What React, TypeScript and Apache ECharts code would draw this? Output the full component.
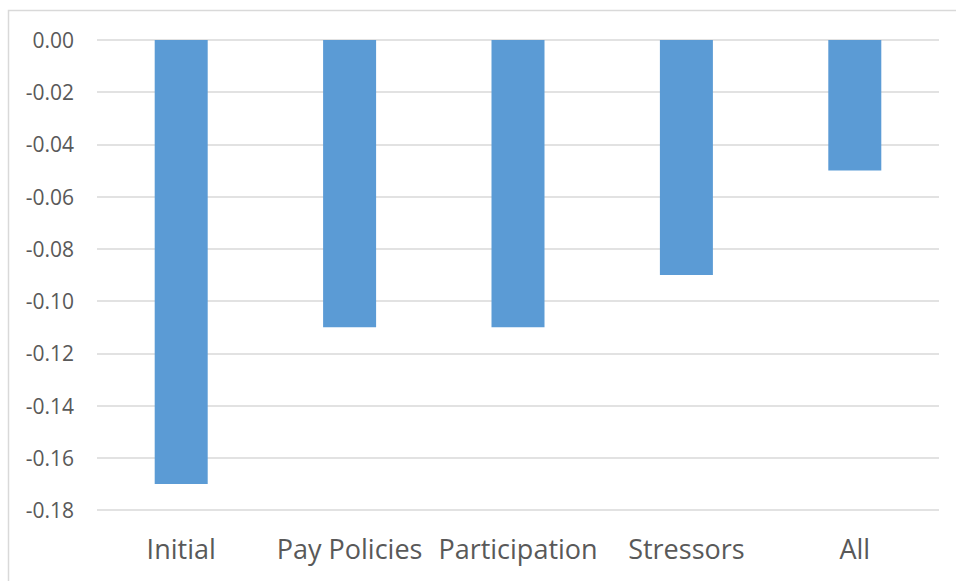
import React, { useEffect, useRef } from "react";
import * as echarts from "echarts";

const categories = ["Initial", "Pay Policies", "Participation", "Stressors", "All"];
const values = [-0.17, -0.11, -0.11, -0.09, -0.05];
const yMin = -0.18;
const yMax = 0;
const yStep = 0.02;

export default function App() {
  const ref = useRef<HTMLDivElement>(null);
  useEffect(() => {
    if (!ref.current) return;
    const chart = echarts.init(ref.current, null, { renderer: "svg" });
    chart.setOption({
      animation: false,
      backgroundColor: "#ffffff",
      textStyle: { fontFamily: "Open Sans" },
      graphic: [
        {
          type: "rect",
          shape: { x: 8.5, y: 10.5, width: 1000, height: 1000 },
          style: { fill: "none", stroke: "#D9D9D9", lineWidth: 1.5 },
          silent: true,
          z: 0,
        },
      ],
      grid: { left: 97, right: 17, top: 40, bottom: 71, containLabel: false },
      xAxis: {
        type: "category",
        data: categories,
        axisLine: { show: false, onZero: false },
        axisTick: { show: false },
        axisLabel: {
          color: "#595959",
          fontSize: 27,
          fontFamily: "Open Sans",
          margin: 25,
          interval: 0,
        },
        splitLine: { show: false },
      },
      yAxis: {
        type: "value",
        min: yMin,
        max: yMax,
        interval: yStep,
        axisLine: { show: false },
        axisTick: { show: false },
        axisLabel: {
          color: "#595959",
          fontSize: 21,
          fontFamily: "Open Sans",
          margin: 23,
          formatter: (v: number) => (Math.abs(v) < 1e-9 ? "0.00" : v.toFixed(2)),
        },
        splitLine: { lineStyle: { color: "#D9D9D9", width: 1.5 } },
      },
      series: [
        {
          type: "bar",
          data: values,
          barWidth: 53,
          itemStyle: { color: "#5B9BD5" },
        },
      ],
    });
    return () => chart.dispose();
  }, []);
  return (
    <div
      ref={ref}
      style={{ position: "fixed", left: 0, top: 0, width: 956, height: 581 }}
    />
  );
}
